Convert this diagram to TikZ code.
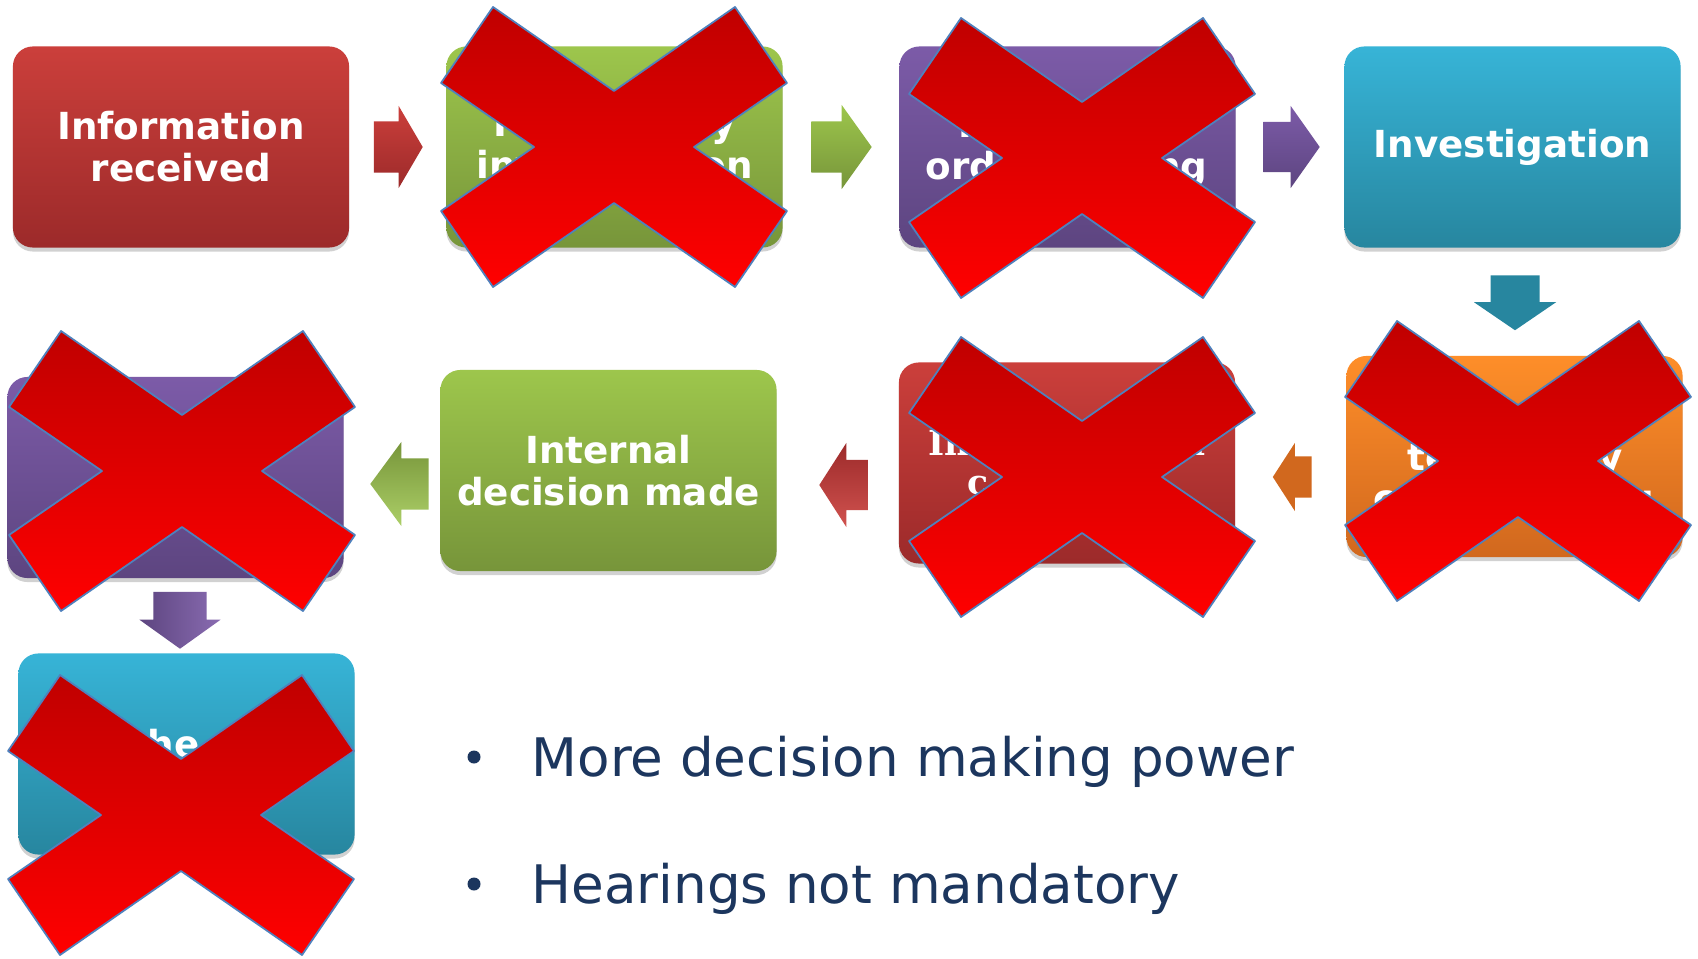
\documentclass[tikz,border=0pt]{standalone}
\usepackage{fontspec}
\setmainfont{DejaVu Sans}
\newfontfamily\slabfont{DejaVu Serif}
\usetikzlibrary{
  calc,
  positioning,
  shadows
}
\definecolor{ink}{HTML}{1C365E}
\definecolor{redtop}{HTML}{CB3F3B}
\definecolor{redbot}{HTML}{9C2A2A}
\definecolor{greentop}{HTML}{9DC64C}
\definecolor{greenbot}{HTML}{77953A}
\definecolor{purpletop}{HTML}{7C5BA8}
\definecolor{purplebot}{HTML}{5D4580}
\definecolor{cyantop}{HTML}{37B4D7}
\definecolor{cyanbot}{HTML}{27869F}
\definecolor{orangetop}{HTML}{FE8E29}
\definecolor{orangebot}{HTML}{D1681E}
\definecolor{vetotop}{HTML}{C00000}
\definecolor{vetobot}{HTML}{FF0000}
\definecolor{vetoline}{HTML}{4F81BD}
\newcommand{\stagefont}{\bfseries\fontsize{10.6}{11.9}\selectfont}
\newcommand{\slabstagefont}{\slabfont\bfseries\fontsize{9.8}{11.9}\selectfont}
\tikzset{
  stage/.style={
    rounded corners=0.2cm,
    minimum width=3.36cm,
    minimum height=2.01cm,
    inner sep=0pt,
    align=center,
    text=white,
    font=\stagefont,
    drop shadow={shadow xshift=0pt, shadow yshift=-0.04cm,
      opacity=0.18, fill=black}
  },
  frag/.style={
    inner sep=0pt,
    text=white,
    font=\stagefont
  },
  point/.style={
    inner sep=0pt,
    text=ink,
    font=\fontsize{15.1}{18}\selectfont
  },
  % #1 half shaft, #2 half head, #3 head length
  blockarrow/.style n args={3}{
    to path={
      let \p1=(\tikztostart), \p2=(\tikztotarget),
          \p3=($(\p2)!#3!(\p1)$) in
      ($(\p1)!#1!90:(\p2)$)
      -- ($(\p3)!#1!90:(\p2)$)
      -- ($(\p3)!#2!90:(\p2)$)
      -- (\p2)
      -- ($(\p3)!#2!-90:(\p2)$)
      -- ($(\p3)!#1!-90:(\p2)$)
      -- ($(\p1)!#1!-90:(\p2)$)
      -- cycle
    }
  },
  veto/.style={
    top color=vetotop,
    bottom color=vetobot,
    draw=vetoline,
    line width=0.5pt,
    line join=round
  }
}

\begin{document}
\begin{tikzpicture}[x=0.01cm, y=-0.01cm]
  \fill[white] (0,0) rectangle (1698,958);
  \useasboundingbox (0,0) rectangle (1698,958);

  % top row, left to right
  \node[stage, top color=redtop, bottom color=redbot]
    (info) at (181,147) {Information\\received};
  \node[stage, top color=greentop, bottom color=greenbot]
    (prelim) at (614.5,147) {Preliminary\\investigation};
  \node[stage, top color=purpletop, bottom color=purplebot]
    (ord) at (1067.5,147) {};
  \node[stage, top color=cyantop, bottom color=cyanbot]
    (invest) at (1512.5,147) {Investigation};

  % middle row, right to left
  \node[stage, top color=orangetop, bottom color=orangebot]
    (stage5) at (1514.5,456.5) {};
  \node[stage, top color=redtop, bottom color=redbot]
    (stage6) at (1067,463) {};
  \node[stage, top color=greentop, bottom color=greenbot]
    (decision) at (608.5,470.5) {Internal\\decision made};
  \node[stage, top color=purpletop, bottom color=purplebot]
    (stage8) at (175.5,477.5) {};

  % bottom row
  \node[stage, top color=cyantop, bottom color=cyanbot]
    (stage9) at (186.5,754) {};

  % words left showing round the crosses
  \node[frag, anchor=base west] (ord-a) at (958,138) {I};
  \node[frag, anchor=base west] (ord-b) at (925,180) {ord};
  \node[frag, anchor=base east] (ord-c) at (1208,180) {ng};
  \node[frag, anchor=base west] (s5-a) at (1407,470) {te};
  \node[frag, anchor=base east] (s5-b) at (1623,470) {y};
  \node[frag, anchor=base west] (s5-c) at (1373,511) {c};
  \node[frag, anchor=base east] (s5-d) at (1655,511) {g};
  \node[frag, font=\slabstagefont, anchor=base west] (s6-a) at (928,455) {In};
  \node[frag, font=\slabstagefont, anchor=base east] (s6-b) at (1206,455) {l};
  \node[frag, font=\slabstagefont, anchor=base west] (s6-c) at (967,494) {c};
  \node[frag, anchor=base west] (s9-a) at (147,757) {he};

  % block arrows between the stages
  \shade[blockarrow={0.255cm}{0.41cm}{0.24cm},
    top color=redtop, bottom color=redbot]
    ($(info.east)+(24,0)$) to ($(prelim.west)+(-23,0)$);
  \shade[blockarrow={0.255cm}{0.42cm}{0.30cm},
    top color=greentop, bottom color=greenbot]
    ($(prelim.east)+(28,0)$) to ($(ord.west)+(-27,0)$);
  \shade[blockarrow={0.25cm}{0.41cm}{0.29cm},
    top color=purpletop, bottom color=purplebot]
    ($(ord.east)+(27,0)$) to ($(invest.west)+(-24,0)$);
  \fill[cyanbot, blockarrow={0.245cm}{0.41cm}{0.28cm}]
    ($(invest.south)+(2.5,27)$) to ($(stage5.north)+(0.5,-25)$);
  \fill[orangebot, blockarrow={0.205cm}{0.34cm}{0.22cm}]
    ($(stage5.west)+(-34,20.5)$) to ($(stage6.east)+(37,14)$);
  \shade[blockarrow={0.25cm}{0.42cm}{0.27cm},
    top color=redbot, bottom color=redtop!90!white]
    ($(stage6.west)+(-30,22)$) to ($(decision.east)+(42,14.5)$);
  \shade[blockarrow={0.255cm}{0.42cm}{0.31cm},
    top color=greenbot, bottom color=greentop!85!white]
    ($(decision.west)+(-11,13.5)$) to ($(stage8.east)+(26,6.5)$);
  \shade[blockarrow={0.265cm}{0.405cm}{0.29cm},
    left color=purplebot, right color=purpletop!90!white]
    ($(stage8.south)+(4.5,13)$) to ($(stage9.north)+(-6.5,-4)$);

  % struck-out stages
  \foreach \cx/\cy in {614/147, 1082/158, 182/471, 1082/477, 1518/461, 181/815}{
    \shade[veto, shift={(\cx,\cy)}]
      (-121,-140) -- (0,-56) -- (121,-140) -- (173,-64) -- (80,0)
      -- (173,64) -- (121,140) -- (0,56) -- (-121,140) -- (-173,64)
      -- (-80,0) -- (-173,-64) -- cycle;
  }

  % points below the flow
  \node[point, anchor=base west] (power) at (531,776)
    {More decision making power};
  \node[point, anchor=base west] (hearing) at (531,903)
    {Hearings not mandatory};
  \fill[ink] ($(power.base west)+(-57,-19)$) circle[radius=0.065cm];
  \fill[ink] ($(hearing.base west)+(-57,-19)$) circle[radius=0.065cm];
\end{tikzpicture}
\end{document}
